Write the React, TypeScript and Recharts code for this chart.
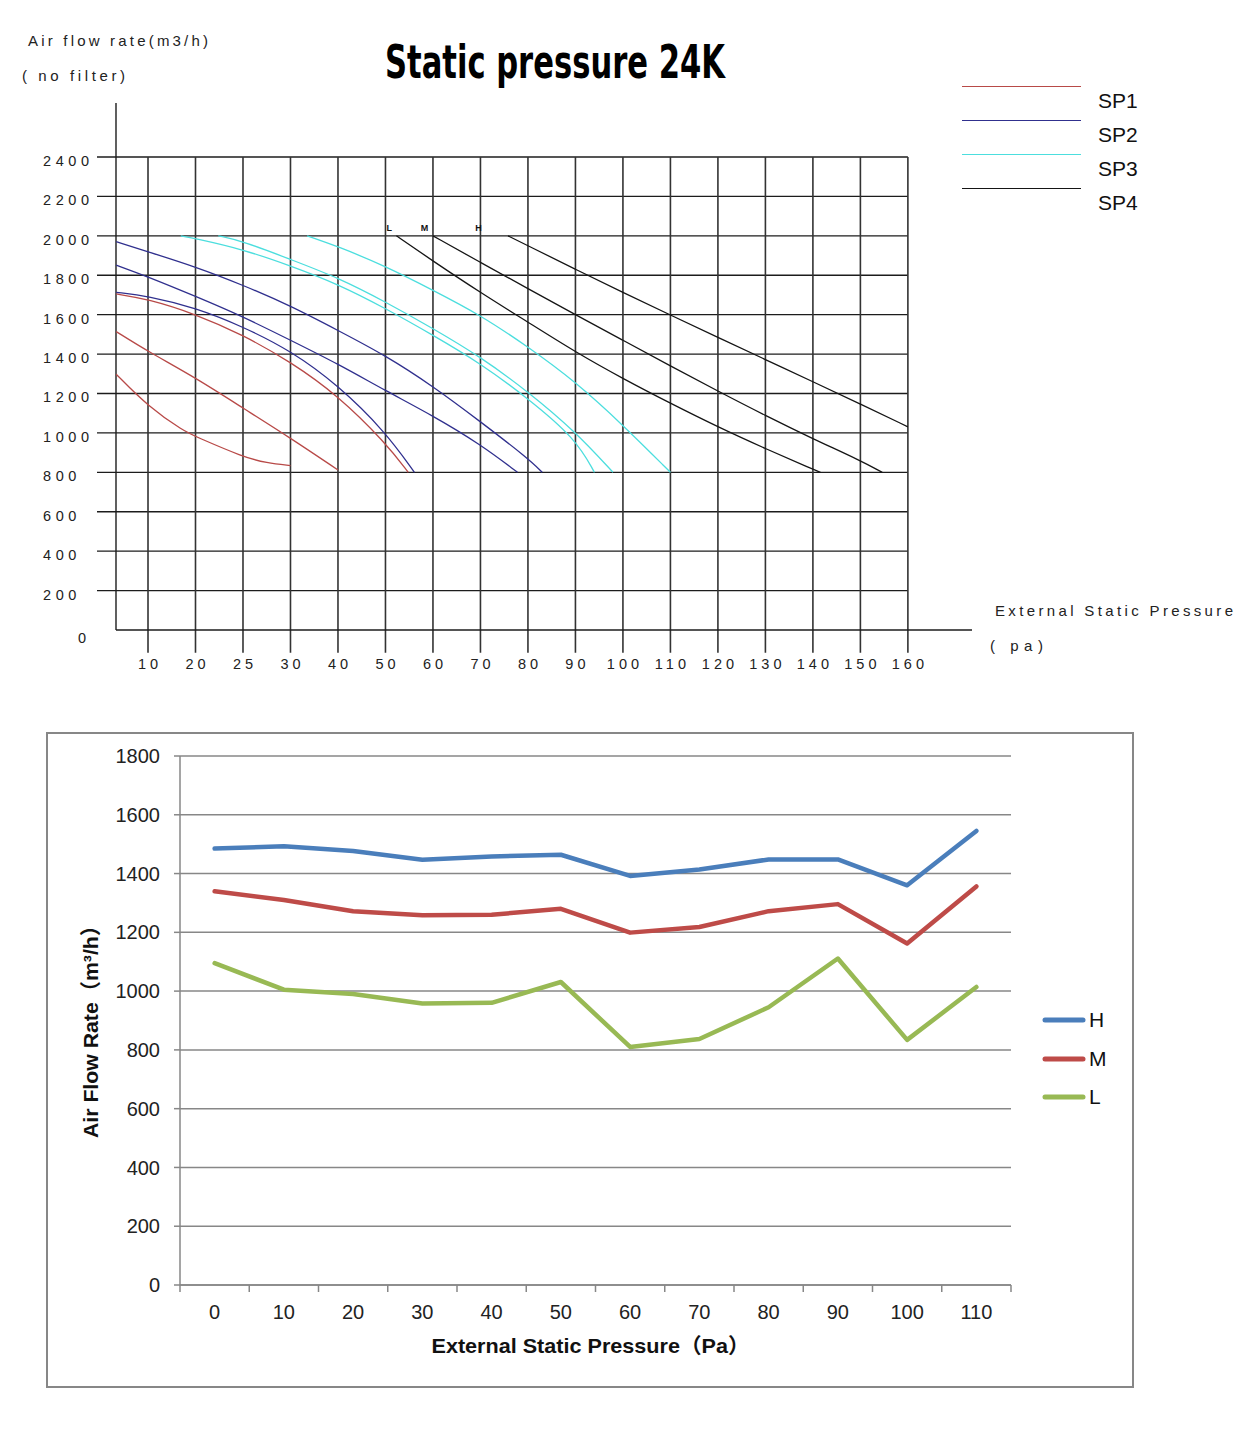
import React from "react";
import { Legend, Line, LineChart, CartesianGrid, ReferenceDot, ReferenceLine, XAxis, YAxis } from "recharts";

// ---------- top chart: "Static pressure 24K" fan curves ----------
// tick labels along the pressure axis (evenly spaced on the sheet, values are not)
const PA_TICKS = [10, 20, 25, 30, 40, 50, 60, 70, 80, 90, 100, 110, 120, 130, 140, 150, 160];
const FLOW_TICKS = [0, 200, 400, 600, 800, 1000, 1200, 1400, 1600, 1800, 2000, 2200, 2400];

// curves as [external static pressure (Pa), air flow (m3/h)]
const SP1_CURVES = [
  [[3.3, 1298], [10, 1134], [17.6, 1008], [20, 982], [25, 878], [27.5, 847], [30, 834]],
  [[3.3, 1514], [10, 1413], [20, 1280], [25, 1126], [30, 974], [40, 812]],
  [[3.3, 1705], [10, 1679], [20, 1603], [25, 1497], [30, 1361], [40, 1190], [50, 950], [54.8, 800]],
];
const SP2_CURVES = [
  [[3.3, 1713], [10, 1695], [20, 1635], [25, 1539], [30, 1418], [40, 1243], [50, 1005], [56.1, 800]],
  [[3.3, 1851], [10, 1792], [20, 1693], [25, 1590], [30, 1470], [40, 1350], [50, 1214], [60, 1087], [70, 942], [77.8, 800]],
  [[3.3, 1970], [10, 1919], [20, 1843], [25, 1750], [30, 1645], [40, 1520], [50, 1393], [60, 1237], [70, 1057], [80, 871], [83, 800]],
];
const SP3_CURVES = [
  [[16.9, 2000], [20, 1986], [25, 1931], [30, 1848], [40, 1755], [50, 1632], [60, 1496], [70, 1353], [80, 1175], [90, 972], [94, 800]],
  [[22.4, 2000], [25, 1973], [30, 1880], [40, 1788], [50, 1665], [60, 1530], [70, 1386], [80, 1210], [90, 1006], [97.9, 800]],
  [[33.5, 2000], [40, 1946], [50, 1846], [60, 1724], [70, 1598], [80, 1437], [90, 1260], [100, 1040], [110, 800]],
];
const SP4_CURVES = [
  [[52.3, 2000], [60, 1872], [70, 1712], [80, 1562], [90, 1410], [100, 1275], [110, 1150], [120, 1030], [130, 920], [140, 815], [141.6, 800]],
  [[60, 2000], [70, 1865], [80, 1732], [90, 1600], [100, 1470], [110, 1340], [120, 1212], [130, 1088], [140, 970], [150, 860], [154.6, 800]],
  [[75.8, 2000], [80, 1950], [90, 1830], [100, 1712], [110, 1598], [120, 1485], [130, 1372], [140, 1260], [150, 1146], [160, 1031]],
];
const SPEED_MARKS = [
  { name: "L", pa: 50.8, flow: 2040 },
  { name: "M", pa: 58.2, flow: 2040 },
  { name: "H", pa: 69.6, flow: 2040 },
];

const SP_GROUPS = [
  { name: "SP1", color: "#b84a48", curves: SP1_CURVES },
  { name: "SP2", color: "#30308e", curves: SP2_CURVES },
  { name: "SP3", color: "#4cdede", curves: SP3_CURVES },
  { name: "SP4", color: "#151515", curves: SP4_CURVES },
];

// ---------- bottom chart ----------
const PRESSURE_PA = [0, 10, 20, 30, 40, 50, 60, 70, 80, 90, 100, 110];
const FLOW_H = [1485, 1493, 1477, 1447, 1458, 1464, 1392, 1414, 1448, 1448, 1360, 1545];
const FLOW_M = [1340, 1310, 1272, 1258, 1260, 1280, 1199, 1218, 1272, 1296, 1162, 1356];
const FLOW_L = [1095, 1005, 990, 958, 960, 1031, 810, 837, 945, 1111, 834, 1014];
const BOTTOM_TICKS = [0, 200, 400, 600, 800, 1000, 1200, 1400, 1600, 1800];
const BOTTOM_SERIES = [
  { key: "H", color: "#4a7ebb" },
  { key: "M", color: "#be4b48" },
  { key: "L", color: "#98b954" },
];

// pressure label -> position on the evenly spaced grid
const paToU = (pa: number) => (pa <= 20 ? pa / 10 : pa <= 30 ? (pa - 10) / 5 : (pa + 10) / 10);

const U_MIN = -0.074;
const U_MAX = 18.35;
const U_ORIGIN = 0.326;
const Q_MIN = -127;
const Q_MAX = 2674;

const SANS = "'Liberation Sans', Arial, 'Noto Sans CJK SC', sans-serif";
const GRID = "#1c1c1c";
const GRAY = "#878787";

const bottomData = PRESSURE_PA.map((pa, i) => ({ idx: i, pa, H: FLOW_H[i], M: FLOW_M[i], L: FLOW_L[i] }));
const halfTicks = Array.from({ length: 25 }, (_, i) => i / 2 - 0.5);

function TopXTick(props: any) {
  const { x, y, payload } = props;
  return (
    <text x={x + 2} y={y + 9} textAnchor="middle" dominantBaseline="central" fontSize={14.5} letterSpacing={4} fill="#222" fontFamily={SANS}>
      {PA_TICKS[payload.value - 1]}
    </text>
  );
}

function TopYTick(props: any) {
  const { x, y, payload } = props;
  if (payload.value === 0) {
    return (
      <text x={x - 15} y={y + 8} textAnchor="middle" dominantBaseline="central" fontSize={14.5} fill="#222" fontFamily={SANS}>
        0
      </text>
    );
  }
  return (
    <text x={x - 54} y={y + 4} textAnchor="start" dominantBaseline="central" fontSize={14.5} letterSpacing={4.6} fill="#222" fontFamily={SANS}>
      {payload.value}
    </text>
  );
}

function TopLegend() {
  return (
    <div style={{ position: "relative", width: 220, height: 140 }}>
      {SP_GROUPS.map((g, i) => (
        <div key={g.name} style={{ position: "absolute", left: 0, top: i * 34, width: 220, height: 34 }}>
          <div style={{ position: "absolute", left: 7, top: 0, width: 119, borderTop: `1.5px solid ${g.color}` }} />
          <div style={{ position: "absolute", left: 143, top: 4, fontSize: 21, lineHeight: "22px", fontFamily: SANS, color: "#111" }}>
            {g.name}
          </div>
        </div>
      ))}
    </div>
  );
}

function BottomXTick(props: any) {
  const { x, y, payload } = props;
  const v = payload.value;
  if (Number.isInteger(v)) {
    return (
      <text x={x} y={y + 27} textAnchor="middle" dominantBaseline="central" fontSize={20} fill="#222" fontFamily={SANS}>
        {PRESSURE_PA[v]}
      </text>
    );
  }
  return <line x1={x} y1={y} x2={x} y2={y + 7} stroke={GRAY} strokeWidth={1.5} />;
}

function BottomLegend() {
  return (
    <div style={{ width: 80 }}>
      {BOTTOM_SERIES.map((s) => (
        <div key={s.key} style={{ display: "flex", alignItems: "center", height: 38.5 }}>
          <svg width={48} height={10}>
            <line x1={5} y1={5} x2={43} y2={5} stroke={s.color} strokeWidth={5} strokeLinecap="round" />
          </svg>
          <span style={{ fontSize: 21, fontFamily: SANS, color: "#111", marginLeft: 1 }}>{s.key}</span>
        </div>
      ))}
    </div>
  );
}

export default function App() {
  return (
    <div style={{ position: "absolute", left: 0, top: 0, width: 1253, height: 1440, background: "#fff" }}>
      <div style={{ position: "absolute", left: 0, top: 0 }}>
        <LineChart width={1253} height={700} margin={{ top: 103, right: 281, bottom: 0, left: 0 }}>
          <XAxis
            type="number"
            dataKey="u"
            domain={[U_MIN, U_MAX]}
            allowDataOverflow
            ticks={PA_TICKS.map((_, i) => i + 1)}
            interval={0}
            axisLine={false}
            tickLine={false}
            tickSize={0}
            tickMargin={0}
            height={45}
            tick={<TopXTick />}
          />
          <YAxis
            type="number"
            domain={[Q_MIN, Q_MAX]}
            allowDataOverflow
            ticks={FLOW_TICKS}
            interval={0}
            axisLine={false}
            tickLine={false}
            tickSize={0}
            tickMargin={0}
            width={97}
            tick={<TopYTick />}
          />
          {FLOW_TICKS.filter((v) => v > 0).map((v) => (
            <ReferenceLine
              key={`h${v}`}
              segment={[{ x: U_MIN, y: v }, { x: PA_TICKS.length, y: v }]}
              stroke={GRID}
              strokeWidth={1.3}
              ifOverflow="visible"
            />
          ))}
          {PA_TICKS.map((_, i) => (
            <ReferenceLine
              key={`v${i}`}
              segment={[{ x: i + 1, y: Q_MIN + 12 }, { x: i + 1, y: 2400 }]}
              stroke="#333"
              strokeWidth={1.6}
              ifOverflow="visible"
            />
          ))}
          <ReferenceLine segment={[{ x: U_ORIGIN, y: 0 }, { x: U_MAX, y: 0 }]} stroke={GRID} strokeWidth={1.4} ifOverflow="visible" />
          <ReferenceLine segment={[{ x: U_ORIGIN, y: 0 }, { x: U_ORIGIN, y: Q_MAX }]} stroke={GRID} strokeWidth={1.4} ifOverflow="visible" />
          {SP_GROUPS.map((g) =>
            g.curves.map((c, ci) => (
              <Line
                key={`${g.name}-${ci}`}
                data={c.map(([pa, q]) => ({ u: paToU(pa), q }))}
                dataKey="q"
                type="basis"
                stroke={g.color}
                strokeWidth={1.3}
                dot={false}
                activeDot={false}
                legendType="none"
                isAnimationActive={false}
              />
            ))
          )}
          {SPEED_MARKS.map((m) => (
            <ReferenceDot
              key={m.name}
              x={paToU(m.pa)}
              y={m.flow}
              r={0}
              fill="none"
              stroke="none"
              ifOverflow="visible"
              label={{ value: m.name, position: "center", fontSize: 9, fontWeight: 700, fill: "#111", fontFamily: SANS }}
            />
          ))}
          <Legend
            layout="vertical"
            align="center"
            verticalAlign="middle"
            content={<TopLegend />}
            wrapperStyle={{ left: 955, top: 86, width: 220, height: 140 }}
          />
        </LineChart>
      </div>

      <svg width={1253} height={700} style={{ position: "absolute", left: 0, top: 0, pointerEvents: "none" }}>
        <text x={28} y={40} dominantBaseline="central" fontSize={15} fill="#222" fontFamily={SANS} textLength={180}>
          Air flow rate(m3/h)
        </text>
        <text x={22} y={75} dominantBaseline="central" fontSize={15} fill="#222" fontFamily={SANS} textLength={103}>
          ( no filter)
        </text>
        <text
          x={385}
          y={61}
          dominantBaseline="central"
          fontSize={47}
          fontWeight={700}
          fill="#000"
          fontFamily="'Liberation Sans Narrow', 'DejaVu Sans Condensed', 'Liberation Sans', sans-serif"
          textLength={340}
          lengthAdjust="spacingAndGlyphs"
        >
          Static pressure 24K
        </text>
        <text x={995} y={610} dominantBaseline="central" fontSize={15} fill="#222" fontFamily={SANS} textLength={238}>
          External Static Pressure
        </text>
        <text x={990} y={645} dominantBaseline="central" fontSize={15} fill="#222" fontFamily={SANS} textLength={53}>
          ( pa)
        </text>
      </svg>

      <div
        style={{
          position: "absolute",
          left: 46,
          top: 732,
          width: 1088,
          height: 656,
          border: `2px solid ${GRAY}`,
          boxSizing: "border-box",
          background: "#fff",
        }}
      >
        <LineChart width={1084} height={652} data={bottomData} margin={{ top: 22, right: 121, bottom: 0, left: 0 }}>
          <CartesianGrid horizontal vertical={false} stroke={GRAY} strokeWidth={1.5} />
          <XAxis
            type="number"
            dataKey="idx"
            domain={[-0.5, 11.5]}
            allowDataOverflow
            ticks={halfTicks}
            interval={0}
            height={101}
            axisLine={{ stroke: GRAY, strokeWidth: 1.5 }}
            tickLine={false}
            tickSize={0}
            tickMargin={0}
            tick={<BottomXTick />}
            label={{
              content: (p: any) => (
                <text
                  x={p.viewBox.x + p.viewBox.width / 2 - 5}
                  y={p.viewBox.y + 60}
                  textAnchor="middle"
                  dominantBaseline="central"
                  fontSize={21}
                  fontWeight={700}
                  fill="#111"
                  fontFamily={SANS}
                  textLength={318}
                  lengthAdjust="spacingAndGlyphs"
                >
                  External Static Pressure（Pa）
                </text>
              ),
            }}
          />
          <YAxis
            type="number"
            domain={[0, 1800]}
            ticks={BOTTOM_TICKS}
            interval={0}
            width={132}
            axisLine={{ stroke: GRAY, strokeWidth: 1.5 }}
            tickLine={{ stroke: GRAY, strokeWidth: 1.5 }}
            tickSize={6}
            tickMargin={14}
            tick={{ fontSize: 20, fill: "#222", fontFamily: SANS }}
            label={{
              content: (p: any) => {
                const cx = p.viewBox.x + 42;
                const cy = p.viewBox.y + p.viewBox.height / 2 + 6;
                return (
                  <text
                    x={cx}
                    y={cy}
                    transform={`rotate(-90 ${cx} ${cy})`}
                    textAnchor="middle"
                    dominantBaseline="central"
                    fontSize={21}
                    fontWeight={700}
                    fill="#111"
                    fontFamily={SANS}
                    textLength={223}
                    lengthAdjust="spacingAndGlyphs"
                  >
                    Air Flow Rate（m³/h）
                  </text>
                );
              },
            }}
          />
          {BOTTOM_SERIES.map((s) => (
            <Line
              key={s.key}
              dataKey={s.key}
              type="linear"
              stroke={s.color}
              strokeWidth={4.5}
              strokeLinejoin="round"
              strokeLinecap="round"
              dot={false}
              activeDot={false}
              isAnimationActive={false}
            />
          ))}
          <Legend
            layout="vertical"
            align="center"
            verticalAlign="middle"
            content={<BottomLegend />}
            wrapperStyle={{ left: 992, top: 267, width: 80 }}
          />
        </LineChart>
      </div>
    </div>
  );
}
